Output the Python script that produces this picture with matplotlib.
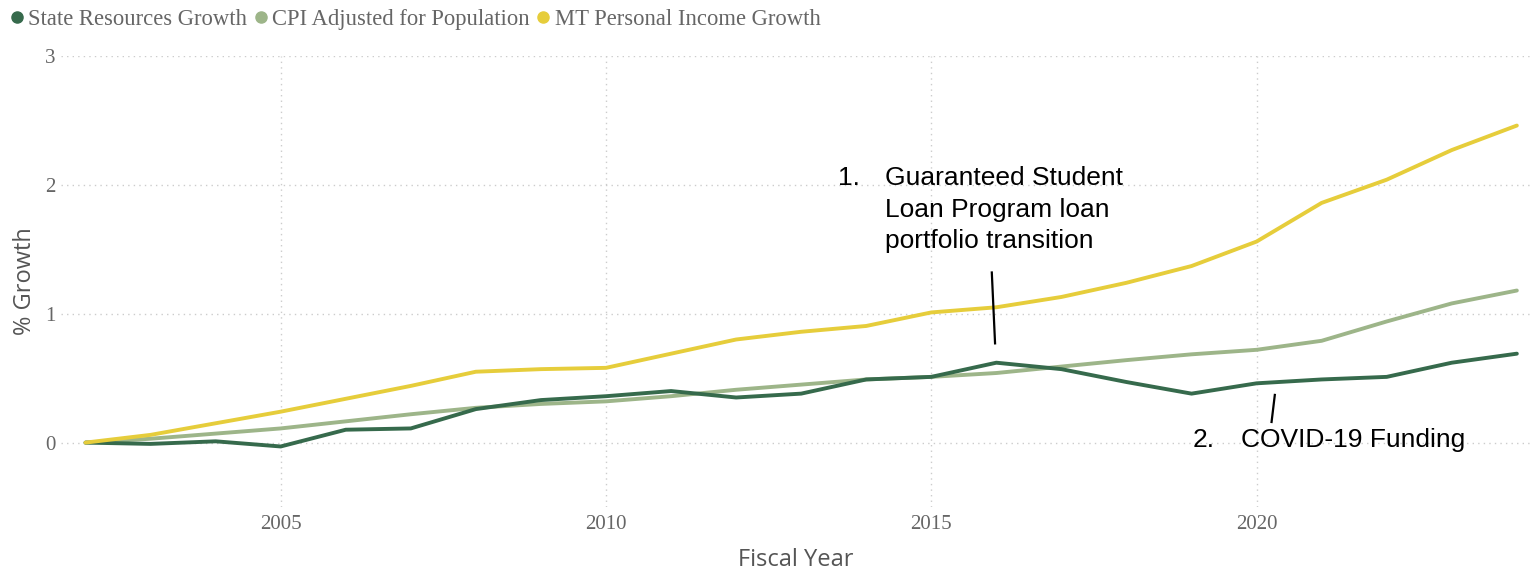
import numpy as np
import matplotlib.pyplot as plt
from matplotlib.lines import Line2D

years = list(range(2002, 2025))
state_resources = [0.00, -0.01, 0.01, -0.03, 0.10, 0.11, 0.26, 0.33, 0.36, 0.40, 0.35, 0.38,
                   0.49, 0.51, 0.62, 0.57, 0.47, 0.38, 0.46, 0.49, 0.51, 0.62, 0.69]
cpi_population = [0.00, 0.03, 0.07, 0.11, 0.165, 0.22, 0.27, 0.30, 0.32, 0.36, 0.41, 0.45,
                  0.49, 0.51, 0.54, 0.59, 0.64, 0.685, 0.72, 0.79, 0.94, 1.08, 1.18]
mt_income = [0.00, 0.06, 0.15, 0.24, 0.34, 0.44, 0.55, 0.57, 0.58, 0.69, 0.80, 0.86,
             0.905, 1.01, 1.05, 1.13, 1.24, 1.37, 1.56, 1.86, 2.04, 2.27, 2.46]

labels = ['State Resources Growth', 'CPI Adjusted for Population', 'MT Personal Income Growth']
colors = ['#366a4c', '#9db589', '#e6cd3b']

note1 = ['Guaranteed Student', 'Loan Program loan', 'portfolio transition']
note2 = 'COVID-19 Funding'

fig = plt.figure(figsize=(15.36, 5.71), dpi=100)
ax = fig.add_axes([0.040, 0.112, 0.956, 0.790])

ax.plot(years, cpi_population, color=colors[1], lw=2.8, solid_capstyle='round')
ax.plot(years, state_resources, color=colors[0], lw=2.8, solid_capstyle='round')
ax.plot(years, mt_income, color=colors[2], lw=2.8, solid_capstyle='round')

ax.set_xlim(2001.63, 2024.2)
ax.set_ylim(-0.5, 3)
ax.set_yticks([0, 1, 2, 3])
ax.set_xticks([2005, 2010, 2015, 2020])
ax.grid(True, color='#cccccc', linestyle=(0, (1, 3)), linewidth=1)
ax.set_axisbelow(True)
for s in ax.spines.values():
    s.set_visible(False)
ax.tick_params(length=0, labelsize=15, labelcolor='#666666')
for t in ax.get_xticklabels() + ax.get_yticklabels():
    t.set_fontfamily('Liberation Serif')
ax.tick_params(axis='x', pad=6)
ax.tick_params(axis='y', pad=4)

ax.set_ylabel('% Growth', fontsize=17, color='#555555', fontfamily='Open Sans', labelpad=6)
ax.set_xlabel('Fiscal Year', fontsize=17, color='#555555', fontfamily='Open Sans', labelpad=10)

# annotations
ax.text(2013.57, 2.05, '1.', fontsize=19, fontfamily='Liberation Sans', va='center')
for i, line in enumerate(note1):
    ax.text(2014.29, 2.05 - i * 0.242, line, fontsize=19, fontfamily='Liberation Sans',
            va='center')
ax.plot([2015.93, 2015.98], [1.32, 0.77], color='black', lw=1.6)

ax.text(2019.01, 0.02, '2.', fontsize=19, fontfamily='Liberation Sans', va='center')
ax.text(2019.76, 0.02, note2, fontsize=19, fontfamily='Liberation Sans', va='center')
ax.plot([2020.28, 2020.23], [0.37, 0.16], color='black', lw=1.6)

handles = [Line2D([], [], marker='o', ls='none', color=c, markersize=8) for c in colors]
fig.legend(handles, labels, loc='upper left', bbox_to_anchor=(0.0, 1.0), ncol=3,
           frameon=False, prop={'family': 'Liberation Serif', 'size': 16.3},
           labelcolor='#666666', handletextpad=0.15, handlelength=0.7,
           columnspacing=0.25, borderaxespad=0.2, borderpad=0.2)

fig.savefig('out.png', dpi=100)
